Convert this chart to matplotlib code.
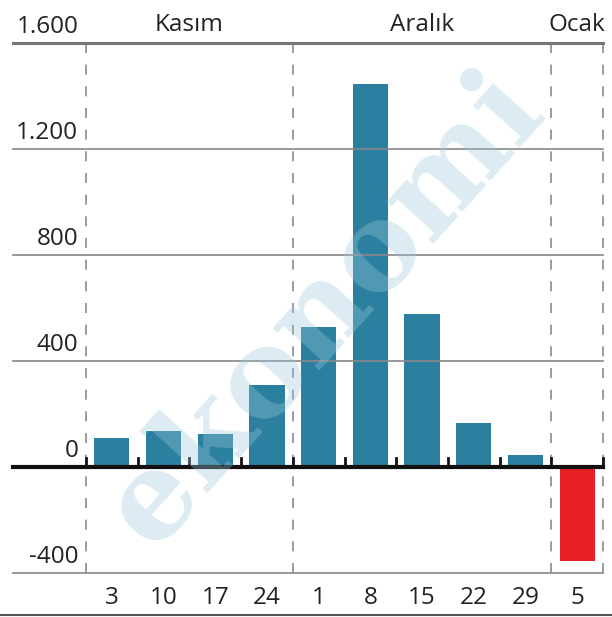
import numpy as np
import matplotlib.pyplot as plt
from matplotlib.lines import Line2D

# haftalik degisim (Kasim - Ocak)
days = ["3", "10", "17", "24", "1", "8", "15", "22", "29", "5"]
values = [110, 136, 125, 310, 528, 1445, 577, 166, 45, -355]
months = ["Kasım", "Aralık", "Ocak"]
month_spans = [(0, 3), (4, 8), (9, 9)]
yticks = [1600, 1200, 800, 400, 0, -400]
ytick_labels = ["1.600", "1.200", "800", "400", "0", "-400"]

blue = "#2b7f9f"
red = "#e81f27"
font = "Open Sans"
fs = 17.5

fig = plt.figure(figsize=(6.12, 6.17), dpi=100)
ax = fig.add_axes([86 / 612, 44 / 617, 517 / 612, 530 / 617])

x = np.arange(len(days))
colors = [blue if v >= 0 else red for v in values]
ax.bar(x, values, width=0.68, color=colors, zorder=3)

ax.set_xlim(-0.5, len(days) - 0.5)
ax.set_ylim(-400, 1600)
for s in ax.spines.values():
    s.set_visible(False)
ax.set_yticks([])
ax.set_xticks(x)
ax.set_xticklabels(days, fontsize=fs, family=font, color="#222222")
ax.tick_params(axis="x", length=0, pad=9)

# yatay cizgiler (soldaki etiketlerin altina kadar uzaniyor)
ytr = ax.get_yaxis_transform()
x0 = (13 - 86) / 517
for yv, lab in zip(yticks, ytick_labels):
    if yv == 0:
        lw, col = 3, "#111111"
    elif yv == 1600:
        lw, col = 2.2, "#777777"
    else:
        lw, col = 1.2, "#888888"
    ax.add_line(Line2D([x0, 1], [yv, yv], transform=ytr, color=col, lw=lw,
                       clip_on=False, zorder=4))
    ax.text(-0.015, yv + 14, lab, transform=ytr, ha="right", va="bottom",
            fontsize=fs, family=font, color="#222222")

# ay ayiricilari
for xv in [-0.5, 3.5, 8.5, 9.5]:
    ax.plot([xv, xv], [-400, 1600], color="#8a8a8a", lw=1.2,
            dashes=(6, 7), zorder=2, clip_on=False)

# sifir cizgisindeki kucuk tikler
for xv in np.arange(-0.5, len(days), 1.0):
    ax.plot([xv, xv], [0, 35], color="#111111", lw=2, zorder=4,
            clip_on=False)

# ay isimleri
for name, (a, b) in zip(months, month_spans):
    ax.text((a + b) / 2, 1600 + 24, name, ha="center", va="bottom",
            fontsize=fs, family=font, color="#222222")

# filigran
fig.text(0.53, 0.5, "ekonomi", rotation=48, ha="center", va="center",
         fontsize=88, family="DejaVu Serif", weight="bold",
         color="#9cc8da", alpha=0.35, zorder=10)

fig.add_artist(Line2D([0, 1], [2 / 617, 2 / 617], color="#555555", lw=1.5))

fig.savefig("out.png", dpi=100)
